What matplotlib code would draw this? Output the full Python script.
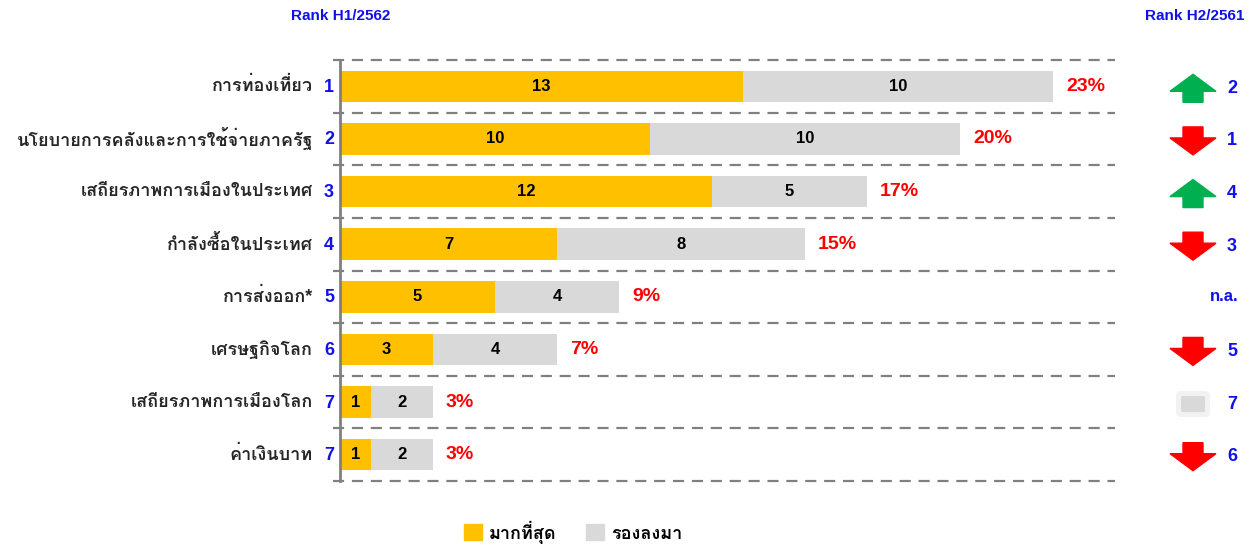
import numpy as np
import matplotlib
matplotlib.use("Agg")
import matplotlib.pyplot as plt
from matplotlib.patches import Polygon, FancyBboxPatch, Patch

plt.rcParams['font.family'] = ['Liberation Sans', 'Loma']

categories = ['การท่องเที่ยว', 'นโยบายการคลังและการใช้จ่ายภาครัฐ', 'เสถียรภาพการเมืองในประเทศ',
              'กำลังซื้อในประเทศ', 'การส่งออก*', 'เศรษฐกิจโลก', 'เสถียรภาพการเมืองโลก', 'ค่าเงินบาท']
rank_h1 = ['1', '2', '3', '4', '5', '6', '7', '7']
most = np.array([13, 10, 12, 7, 5, 3, 1, 1])
second = np.array([10, 10, 5, 8, 4, 4, 2, 2])
share = ['23%', '20%', '17%', '15%', '9%', '7%', '3%', '3%']
rank_h2 = ['2', '1', '4', '3', 'n.a.', '5', '7', '6']
trend = ['up', 'down', 'up', 'down', 'na', 'down', 'same', 'down']

GOLD = '#FFC000'
GRAY = '#D9D9D9'
BLUE = '#1010E8'
RED = '#FF0000'
GREEN = '#00B050'

W, H = 1256, 547
fig = plt.figure(figsize=(W / 100, H / 100), dpi=100)
ax = fig.add_axes([340 / W, 1 - 481 / H, 775 / W, 421 / H])

y = np.arange(len(categories))
ax.barh(y, most, height=0.6, color=GOLD)
ax.barh(y, second, left=most, height=0.6, color=GRAY)
ax.set_xlim(0, 25)
ax.set_ylim(len(categories) - 0.5, -0.5)
ax.axis('off')

# dashed separators and axis line
for b in np.arange(-0.5, len(categories), 1.0):
    ax.plot([-0.23, 25], [b, b], color='#808080', lw=1.6, ls=(0, (5, 3.5)), clip_on=False)
ax.plot([0, 0], [-0.5, len(categories) - 0.5], color='#808080', lw=2, clip_on=False)

for i in range(len(categories)):
    ax.text(most[i] / 2, i, str(most[i]), ha='center', va='center', fontsize=12, fontweight='bold')
    ax.text(most[i] + second[i] / 2, i, str(second[i]), ha='center', va='center', fontsize=12, fontweight='bold')
    ax.annotate(share[i], xy=(most[i] + second[i], i), xytext=(13, 0), textcoords='offset pixels',
                ha='left', va='center', fontsize=14, fontweight='bold', color=RED)
    ax.annotate(rank_h1[i], xy=(0, i), xytext=(-11, -1), textcoords='offset pixels',
                ha='center', va='center', fontsize=13, fontweight='bold', color=BLUE)
    ax.annotate(categories[i], xy=(0, i), xytext=(-27, 0), textcoords='offset pixels',
                ha='right', va='center', fontsize=13, fontweight='bold', color='#262626')

fig.text(341 / W, 1 - 16 / H, 'Rank H1/2562', ha='center', va='center', fontsize=11,
         fontweight='bold', color=BLUE)
fig.text(1195 / W, 1 - 16 / H, 'Rank H2/2561', ha='center', va='center', fontsize=11,
         fontweight='bold', color=BLUE)

# right column: previous rank with trend marks
ax2 = fig.add_axes([1150 / W, 1 - 481 / H, 106 / W, 421 / H], sharey=ax)
ax2.set_xlim(0, 106)
ax2.axis('off')
u = 421 / len(categories)  # pixels per row
cx = 43
for i in range(len(categories)):
    yc = i + 2 / u
    if trend[i] == 'up':
        pts = [(cx, yc - 14 / u), (cx + 23, yc + 3 / u), (cx + 10, yc + 3 / u), (cx + 10, yc + 14 / u),
               (cx - 10, yc + 14 / u), (cx - 10, yc + 3 / u), (cx - 23, yc + 3 / u)]
        ax2.add_patch(Polygon(pts, closed=True, color=GREEN))
    elif trend[i] == 'down':
        pts = [(cx, yc + 14 / u), (cx + 23, yc - 3 / u), (cx + 10, yc - 3 / u), (cx + 10, yc - 14 / u),
               (cx - 10, yc - 14 / u), (cx - 10, yc - 3 / u), (cx - 23, yc - 3 / u)]
        ax2.add_patch(Polygon(pts, closed=True, color=RED))
    elif trend[i] == 'same':
        ax2.add_patch(FancyBboxPatch((cx - 17, yc - 13 / u), 34, 26 / u, mutation_aspect=1 / u,
                                     boxstyle='round,pad=0,rounding_size=5', fc='#F2F2F2', lw=0))
        ax2.add_patch(FancyBboxPatch((cx - 12, yc - 8 / u), 24, 16 / u, mutation_aspect=1 / u,
                                     boxstyle='round,pad=0,rounding_size=1.5', fc='#D9D9D9', lw=0))
    if trend[i] == 'na':
        ax2.text(74, i, rank_h2[i], ha='center', va='center', fontsize=12, fontweight='bold', color=BLUE)
    else:
        ax2.text(82, yc, rank_h2[i], ha='center', va='center', fontsize=13, fontweight='bold', color=BLUE)

handles = [Patch(color=GOLD, label='มากที่สุด'), Patch(color=GRAY, label='รองลงมา')]
fig.legend(handles=handles, loc='center', bbox_to_anchor=(573 / W, 1 - 532 / H), ncol=2,
           frameon=False, prop={'size': 13, 'weight': 'bold'}, handlelength=1.0, handleheight=1.0,
           handletextpad=0.4, columnspacing=1.6)

fig.savefig('out.png', dpi=100)
